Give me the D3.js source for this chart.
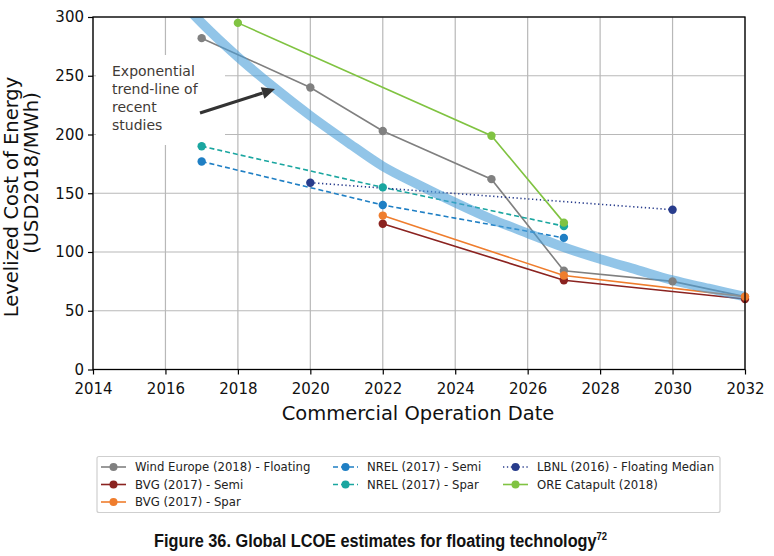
<!DOCTYPE html>
<html><head><meta charset="utf-8">
<script src="https://cdn.jsdelivr.net/npm/d3@7"></script>
<style>
html,body{margin:0;padding:0;background:#fff;}
svg{display:block;}
</style>
</head><body>
<svg id="chart" width="774" height="556"></svg>
<script>
// ---- data ----
const xTicks = [2014,2016,2018,2020,2022,2024,2026,2028,2030,2032];
const yTicks = [0,50,100,150,200,250,300];

const windEuropeYears = [2017,2020,2022,2025,2027,2030,2032];
const windEuropeVals  = [282,240,203,162,84,75,62];
const bvgSemiYears = [2022,2027,2032];
const bvgSemiVals  = [124,76,60];
const bvgSparYears = [2022,2027,2032];
const bvgSparVals  = [131,80,62];
const nrelSemiYears = [2017,2022,2027];
const nrelSemiVals  = [177,140,112];
const nrelSparYears = [2017,2022,2027];
const nrelSparVals  = [190,155,122];
const lbnlYears = [2020,2030];
const lbnlVals  = [159,136];
const oreYears = [2018,2025,2027];
const oreVals  = [295,199,125];

const trendYears = [2016.5,2017,2018,2019,2020,2021,2022,2023,2024,2025,2026,2027,2028,2029,2030,2031,2032];
const trendVals  = [311,295,266,240,216,194,173,157,142,128,116,104,94,85,76,69,62];

const seriesNames = ["Wind Europe (2018) - Floating","BVG (2017) - Semi","BVG (2017) - Spar",
  "NREL (2017) - Semi","NREL (2017) - Spar","LBNL (2016) - Floating Median","ORE Catapult (2018)"];

const annLines = ["Exponential","trend-line of","recent","studies"];

const series = [
  {name:seriesNames[0], years:windEuropeYears, vals:windEuropeVals, color:"#808080", dash:null},
  {name:seriesNames[1], years:bvgSemiYears, vals:bvgSemiVals, color:"#8b2320", dash:null},
  {name:seriesNames[2], years:bvgSparYears, vals:bvgSparVals, color:"#ef7d2d", dash:null},
  {name:seriesNames[3], years:nrelSemiYears, vals:nrelSemiVals, color:"#1f7fc4", dash:"5,3"},
  {name:seriesNames[4], years:nrelSparYears, vals:nrelSparVals, color:"#1aa6a0", dash:"5,3"},
  {name:seriesNames[5], years:lbnlYears, vals:lbnlVals, color:"#283c8c", dash:"1.3,2.6"},
  {name:seriesNames[6], years:oreYears, vals:oreVals, color:"#80c342", dash:null}
];

// ---- layout ----
const svg = d3.select("#chart");
const L=93, R=745, T=17, B=369.5;
const x = d3.scaleLinear().domain([2014,2032]).range([L,R]);
const y = d3.scaleLinear().domain([0,300]).range([B,T]);
const font = "'DejaVu Sans', sans-serif";

svg.append("defs").append("clipPath").attr("id","plotclip")
  .append("rect").attr("x",L).attr("y",T).attr("width",R-L).attr("height",B-T);

// grid
const grid = svg.append("g");
grid.selectAll("line.v").data(xTicks).join("line")
  .attr("x1",d=>x(d)).attr("x2",d=>x(d)).attr("y1",T).attr("y2",B)
  .attr("stroke","#b8b8b8").attr("stroke-width",1.2);
grid.selectAll("line.h").data(yTicks).join("line")
  .attr("x1",L).attr("x2",R).attr("y1",d=>y(d)).attr("y2",d=>y(d))
  .attr("stroke","#b8b8b8").attr("stroke-width",1.2);

// annotation background box (covers grid)
svg.append("rect").attr("x",96).attr("y",55).attr("width",129).attr("height",90).attr("fill","#fff");

// series
const line = d3.line().x(d=>x(d[0])).y(d=>y(d[1]));
const plot = svg.append("g").attr("clip-path","url(#plotclip)");
const plotOuter = svg.append("g");
series.forEach(s=>{
  const pts = s.years.map((yr,i)=>[yr,s.vals[i]]);
  plot.append("path").attr("d",line(pts)).attr("fill","none")
    .attr("stroke",s.color).attr("stroke-width",1.6)
    .attr("stroke-dasharray",s.dash);
  plotOuter.selectAll(null).data(pts).join("circle")
    .attr("cx",d=>x(d[0])).attr("cy",d=>y(d[1])).attr("r",4.2).attr("fill",s.color);
});

// exponential trend band on top
const trendLine = d3.line().curve(d3.curveMonotoneX).x(d=>x(d[0])).y(d=>y(d[1]));
plot.append("path").attr("d",trendLine(trendYears.map((yr,i)=>[yr,trendVals[i]])))
  .attr("fill","none").attr("stroke","#4a9fd8").attr("stroke-opacity",0.6)
  .attr("stroke-width",9.5).attr("stroke-linecap","butt");

// frame
svg.append("rect").attr("x",L).attr("y",T).attr("width",R-L).attr("height",B-T)
  .attr("fill","none").attr("stroke","#000").attr("stroke-width",1.3);

// axes
const xAxis = svg.append("g").attr("transform",`translate(0,${B})`)
  .call(d3.axisBottom(x).tickValues(xTicks).tickFormat(d3.format("d")).tickSize(5).tickPadding(9));
const yAxis = svg.append("g").attr("transform",`translate(${L},0)`)
  .call(d3.axisLeft(y).tickValues(yTicks).tickSize(5).tickPadding(4));
[xAxis,yAxis].forEach(a=>{
  a.select(".domain").remove();
  a.selectAll("line").attr("stroke","#000").attr("stroke-width",1.2);
  a.selectAll("text").attr("font-family",font).attr("font-size","15px").attr("fill","#111");
});

// axis titles
svg.append("text").attr("x",418).attr("y",420).attr("text-anchor","middle")
  .attr("font-family",font).attr("font-size","19.5px").attr("fill","#111")
  .text("Commercial Operation Date");
svg.append("text").attr("transform","translate(18,197) rotate(-90)").attr("text-anchor","middle")
  .attr("font-family",font).attr("font-size","19.5px").attr("fill","#111")
  .text("Levelized Cost of Energy");
svg.append("text").attr("transform","translate(38,173) rotate(-90)").attr("text-anchor","middle")
  .attr("font-family",font).attr("font-size","19.5px").attr("fill","#111")
  .text("(USD2018/MWh)");

// annotation
svg.append("g").selectAll("text").data(annLines).join("text")
  .attr("x",112).attr("y",(d,i)=>76+i*18)
  .attr("font-family",font).attr("font-size","14px").attr("fill","#3f3a36")
  .text(d=>d);
// arrow
const ax0=200, ay0=113, ax1=275, ay1=89;
const ang = Math.atan2(ay1-ay0, ax1-ax0);
const hl=13, hw=6;
const bx = ax1-hl*Math.cos(ang), by = ay1-hl*Math.sin(ang);
const arrowG = svg.append("g");
arrowG.append("line").attr("x1",ax0).attr("y1",ay0).attr("x2",bx).attr("y2",by)
  .attr("stroke","#333").attr("stroke-width",3.2);
arrowG.append("path").attr("d",`M${ax1},${ay1}L${bx+hw*Math.sin(ang)},${by-hw*Math.cos(ang)}L${bx-hw*Math.sin(ang)},${by+hw*Math.cos(ang)}Z`)
  .attr("fill","#333");

// legend
const lg = svg.append("g");
lg.append("rect").attr("x",97).attr("y",456.5).attr("width",623).attr("height",56).attr("rx",2)
  .attr("fill","#fff").attr("stroke","#cfcfcf").attr("stroke-width",1.2);
const legPos = [[0,0],[0,1],[0,2],[1,0],[1,1],[2,0],[2,1]];
const colX = [101,333,503];
series.forEach((s,i)=>{
  const cx = colX[legPos[i][0]], cy = 467+legPos[i][1]*17.5;
  lg.append("line").attr("x1",cx).attr("x2",cx+25).attr("y1",cy).attr("y2",cy)
    .attr("stroke",s.color).attr("stroke-width",1.6).attr("stroke-dasharray",s.dash);
  lg.append("circle").attr("cx",cx+12.5).attr("cy",cy).attr("r",4).attr("fill",s.color);
  lg.append("text").attr("x",cx+34).attr("y",cy+4.3).attr("font-family",font)
    .attr("font-size","11.7px").attr("fill","#222").text(s.name);
});

// caption (condensed bold)
const capG = svg.append("g");
const cap = capG.append("text").attr("x",0).attr("y",0)
  .attr("font-family","'Liberation Sans','Arial',sans-serif").attr("font-weight","bold")
  .attr("font-size","19px").attr("fill","#111");
const capMain = cap.append("tspan").text("Figure 36. Global LCOE estimates for floating technology");
cap.append("tspan").attr("font-size","11px").attr("dy","-7").text("72");
const mainW = capMain.node().getComputedTextLength();
const sx = 443/mainW;
capG.attr("transform",`translate(154,547) scale(${sx},1)`);
</script>
</body></html>
